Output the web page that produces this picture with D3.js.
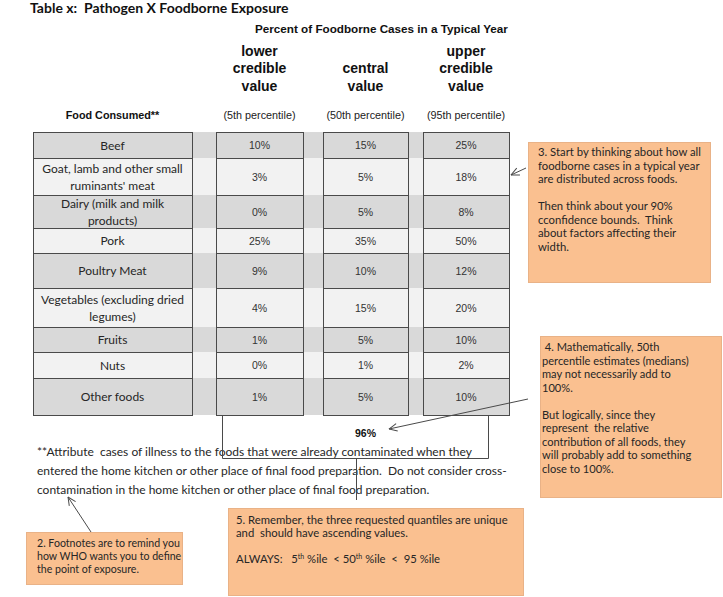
<!DOCTYPE html>
<html>
<head>
<meta charset="utf-8">
<script src="https://cdn.jsdelivr.net/npm/d3@7"></script>
<style>
  body { margin: 0; background: #fff; }
  svg text { white-space: pre; }
</style>
</head>
<body>
<div id="vis"></div>
<script>
const foods = ["Beef", "Goat, lamb and other small\nruminants' meat", "Dairy (milk and milk\nproducts)",
               "Pork", "Poultry Meat", "Vegetables (excluding dried\nlegumes)", "Fruits", "Nuts", "Other foods"];
const lower   = [10, 3, 0, 25, 9, 4, 1, 0, 1];
const central = [15, 5, 5, 35, 10, 15, 5, 1, 5];
const upper   = [25, 18, 8, 50, 12, 20, 10, 2, 10];
const colHeads = [["lower", "credible", "value"], ["central", "value"], ["upper", "credible", "value"]];
const colSubs = ["(5th percentile)", "(50th percentile)", "(95th percentile)"];
const centralSum = "96%";

// frame
const WIDTH = 723, HEIGHT = 597;
const CAL = "Lato, 'Open Sans', sans-serif";      // stands in for Calibri
const ARIAL = "'Liberation Sans', Arial, sans-serif";
const INK = "#262626", LINE = "#4a4a4a";

const svg = d3.select("#vis").append("svg")
    .attr("width", WIDTH).attr("height", HEIGHT);

svg.append("defs").append("marker")
    .attr("id", "arr").attr("viewBox", "0 0 10 10")
    .attr("refX", 9.5).attr("refY", 5)
    .attr("markerWidth", 9).attr("markerHeight", 9)
    .attr("markerUnits", "userSpaceOnUse")
    .attr("orient", "auto")
  .append("path")
    .attr("d", "M0.5,0.8 L9.5,5 L0.5,9.2")
    .attr("fill", "none").attr("stroke", LINE).attr("stroke-width", 1.1);

// layout of the table
const ROW_EDGES = [132, 158, 195, 228, 253, 288, 327, 352, 378, 415];
const Y_TOP = d3.scaleOrdinal().domain(foods).range(ROW_EDGES.slice(0, -1));
const Y_BOT = d3.scaleOrdinal().domain(foods).range(ROW_EDGES.slice(1));
const cols = ["label", "lower", "central", "upper"];
const X_LEFT = d3.scaleOrdinal().domain(cols).range([33, 216, 323, 423]);
const X_RIGHT = d3.scaleOrdinal().domain(cols).range([192, 303, 408, 509]);
const xMid = (c) => (X_LEFT(c) + X_RIGHT(c)) / 2;

const rows = foods.map((f, i) => ({food: f, i: i, lower: lower[i], central: central[i], upper: upper[i]}));
const rowFill = (d) => d.i % 2 === 0 ? "#d9d9d9" : "#f2f2f2";

// titles
svg.append("text").attr("x", 30).attr("y", 13)
    .attr("font-family", CAL).attr("font-weight", "bold").attr("font-size", 14).attr("fill", "#111")
    .text("Table x:  Pathogen X Foodborne Exposure");

svg.append("text").attr("x", 255).attr("y", 33)
    .attr("font-family", ARIAL).attr("font-weight", "bold").attr("font-size", 11.7).attr("fill", "#111")
    .text("Percent of Foodborne Cases in a Typical Year");

// column headers, bottom aligned
colHeads.forEach((lines, k) => {
  const c = cols[k + 1];
  lines.forEach((ln, j) => {
    svg.append("text").attr("x", xMid(c)).attr("y", 90.5 - (lines.length - 1 - j) * 17.5)
        .attr("text-anchor", "middle")
        .attr("font-family", ARIAL).attr("font-weight", "bold").attr("font-size", 14).attr("fill", "#111")
        .text(ln);
  });
  svg.append("text").attr("x", xMid(c)).attr("y", 118.5)
      .attr("text-anchor", "middle")
      .attr("font-family", ARIAL).attr("font-size", 10.8).attr("fill", "#222")
      .text(colSubs[k]);
});
svg.append("text").attr("x", xMid("label")).attr("y", 118.5)
    .attr("text-anchor", "middle")
    .attr("font-family", ARIAL).attr("font-weight", "bold").attr("font-size", 10.8).attr("fill", "#111")
    .text("Food Consumed**");

// striped bands behind the whole table
svg.selectAll("rect.band").data(rows).enter().append("rect")
    .attr("class", "band")
    .attr("x", X_LEFT("label")).attr("width", X_RIGHT("upper") - X_LEFT("label"))
    .attr("y", (d) => Y_TOP(d.food)).attr("height", (d) => Y_BOT(d.food) - Y_TOP(d.food))
    .attr("fill", rowFill);

// bordered cells
cols.forEach((c) => {
  svg.selectAll("rect.cell-" + c).data(rows).enter().append("rect")
      .attr("class", "cell-" + c)
      .attr("x", X_LEFT(c) + 0.5).attr("width", X_RIGHT(c) - X_LEFT(c))
      .attr("y", (d) => Y_TOP(d.food) + 0.5).attr("height", (d) => Y_BOT(d.food) - Y_TOP(d.food))
      .attr("fill", "none").attr("stroke", LINE).attr("stroke-width", 1);
});

// food labels
rows.forEach((d) => {
  const lines = d.food.split("\n");
  const cy = (Y_TOP(d.food) + Y_BOT(d.food)) / 2;
  lines.forEach((ln, j) => {
    svg.append("text").attr("x", xMid("label"))
        .attr("y", cy + 4.5 + (j - (lines.length - 1) / 2) * 17)
        .attr("text-anchor", "middle")
        .attr("font-family", CAL).attr("font-size", 12).attr("fill", INK)
        .text(ln);
  });
});

// percent values
["lower", "central", "upper"].forEach((c) => {
  svg.selectAll("text.v-" + c).data(rows).enter().append("text")
      .attr("class", "v-" + c)
      .attr("x", xMid(c))
      .attr("y", (d) => (Y_TOP(d.food) + Y_BOT(d.food)) / 2 + 4)
      .attr("text-anchor", "middle")
      .attr("font-family", ARIAL).attr("font-size", 10.5).attr("fill", "#333")
      .text((d) => d[c] + "%");
});

svg.append("text").attr("x", xMid("central")).attr("y", 437)
    .attr("text-anchor", "middle")
    .attr("font-family", ARIAL).attr("font-weight", "bold").attr("font-size", 10.5).attr("fill", "#111")
    .text(centralSum);

// footnote
const foot = ["**Attribute  cases of illness to the foods that were already contaminated when they",
              "entered the home kitchen or other place of final food preparation.  Do not consider cross-",
              "contamination in the home kitchen or other place of final food preparation."];
foot.forEach((ln, j) => {
  svg.append("text").attr("x", 37).attr("y", 456 + j * 19)
      .attr("font-family", CAL).attr("font-size", 12).attr("fill", INK)
      .text(ln);
});

// bracket under the three value columns, with a stem to box 5
svg.append("path")
    .attr("d", "M" + (X_LEFT("lower") + 6.5) + ",415 V458.5 H" + (X_RIGHT("upper") - 20.5) + " V416")
    .attr("fill", "none").attr("stroke", LINE).attr("stroke-width", 1);
svg.append("line").attr("x1", 356.5).attr("y1", 458).attr("x2", 356.5).attr("y2", 500)
    .attr("stroke", LINE).attr("stroke-width", 1);

// arrows
const arrows = [[526, 168, 511, 175], [528, 399, 389, 429], [91, 532, 68, 497]];
arrows.forEach((a) => {
  svg.append("line").attr("x1", a[0]).attr("y1", a[1]).attr("x2", a[2]).attr("y2", a[3])
      .attr("stroke", LINE).attr("stroke-width", 1)
      .attr("marker-end", "url(#arr)");
});

// orange note boxes
function note(x, y, w, h, tx, ty, step, size, lines) {
  svg.append("rect").attr("x", x + 0.5).attr("y", y + 0.5).attr("width", w).attr("height", h)
      .attr("fill", "#fac090").attr("stroke", "#e9b287").attr("stroke-width", 1);
  const t = svg.append("text").attr("font-family", CAL).attr("font-size", size).attr("fill", INK);
  lines.forEach((ln, j) => {
    const row = t.append("tspan").attr("x", tx).attr("y", ty + j * step);
    // "^th" pieces become superscripts
    ln.split(/(\^th)/).forEach((part) => {
      if (part === "^th") {
        row.append("tspan").attr("font-size", size * 0.62).attr("baseline-shift", "super").text("th");
      } else {
        row.append("tspan").text(part);
      }
    });
  });
}

note(528, 142, 182, 140, 538, 156, 13.5, 11.3, [
  "3. Start by thinking about how all",
  "foodborne cases in a typical year",
  "are distributed across foods.",
  "",
  "Then think about your 90%",
  "cconfidence bounds.  Think",
  "about factors affecting their",
  "width."]);

note(540, 336, 181, 161, 542, 351, 13.5, 11.1, [
  " 4. Mathematically, 50th",
  "percentile estimates (medians)",
  "may not necessarily add to",
  "100%.",
  "",
  "But logically, since they",
  "represent  the relative",
  "contribution of all foods, they",
  "will probably add to something",
  "close to 100%."]);

note(26, 532, 156, 52, 37, 547, 13, 10.6, [
  "2. Footnotes are to remind you",
  "how WHO wants you to define",
  "the point of exposure."]);

note(228, 508, 295, 87, 236, 523.5, 13, 11.3, [
  "5. Remember, the three requested quantiles are unique",
  "and  should have ascending values.",
  "",
  "ALWAYS:   5^th %ile  < 50^th %ile  <  95 %ile"]);
</script>
</body>
</html>
